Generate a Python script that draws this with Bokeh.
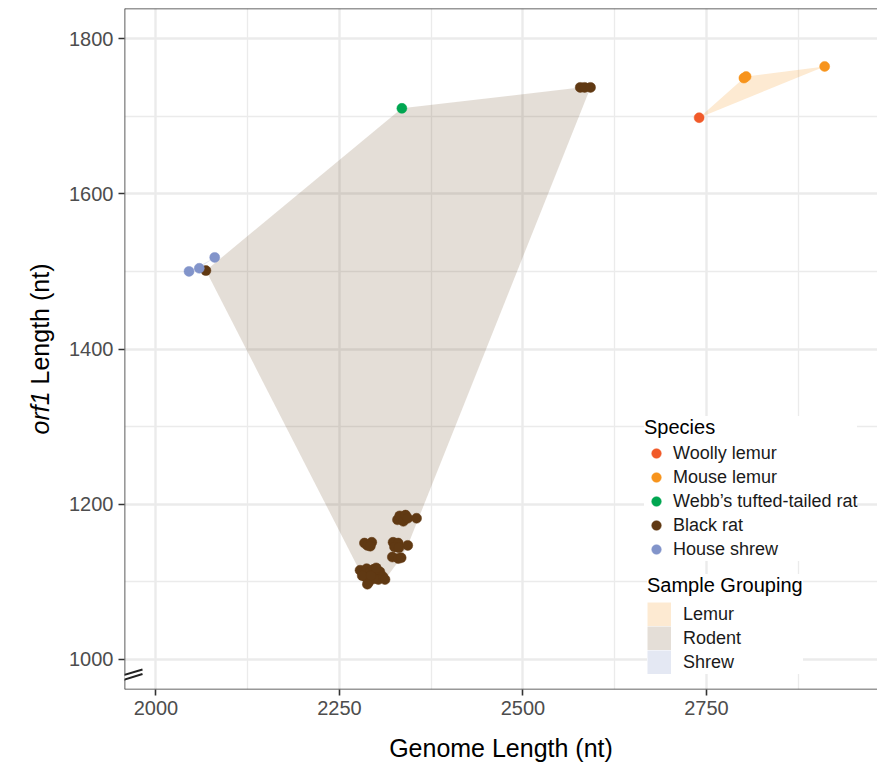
import math
from bokeh.plotting import figure
from bokeh.layouts import row
from bokeh.core.properties import value
from bokeh.models import (Range1d, FixedTicker, Legend, LegendItem, Arrow, Span)
from bokeh.embed import file_html
from bokeh.resources import INLINE

# ---------------- data ----------------
species_names = ["Woolly lemur", "Mouse lemur", "Webb\u2019s tufted-tailed rat", "Black rat", "House shrew"]
species_colors = ["#F15A29", "#F7941D", "#00A651", "#603913", "#8294CA"]

woolly_x = [2740]
woolly_y = [1698]
mouse_x = [2801, 2804, 2911]
mouse_y = [1749, 1751, 1764]
webb_x = [2335]
webb_y = [1710]
rat_x = [2578, 2584, 2592, 2068,
         2329, 2332, 2337, 2340, 2343, 2355,
         2284, 2288, 2294, 2292,
         2323, 2330, 2325, 2331, 2343, 2322, 2330, 2334,
         2278, 2283, 2287, 2292, 2296, 2300, 2305, 2309, 2303, 2297, 2290, 2286, 2281,
         2293, 2300, 2288, 2312]
rat_y = [1737, 1737, 1737, 1501,
         1180, 1185, 1178, 1186, 1182, 1182,
         1150, 1147, 1151, 1146,
         1151, 1150, 1145, 1144, 1147, 1132, 1130, 1131,
         1115, 1112, 1117, 1113, 1116, 1110, 1113, 1107, 1103, 1104, 1100, 1106, 1108,
         1108, 1118, 1097, 1103]
shrew_x = [2045, 2059, 2080]
shrew_y = [1500, 1504, 1518]

group_names = ["Lemur", "Rodent", "Shrew"]
group_colors = ["#F7941D", "#603913", "#8294CA"]
group_alpha = [0.2, 0.17, 0.22]

x_ticks = [2000, 2250, 2500, 2750]
x_minor = [2125, 2375, 2625, 2875]
y_ticks = [1000, 1200, 1400, 1600, 1800]
y_minor = [1100, 1300, 1500, 1700]

x_title = "Genome Length (nt)"
y_title_italic = "orf1"
y_title_rest = "Length (nt)"


def hull(xs, ys):
    pts = sorted(set(zip(xs, ys)))
    if len(pts) < 3:
        return [p[0] for p in pts], [p[1] for p in pts]

    def cross(o, a, b):
        return (a[0] - o[0]) * (b[1] - o[1]) - (a[1] - o[1]) * (b[0] - o[0])
    lower, upper = [], []
    for p in pts:
        while len(lower) >= 2 and cross(lower[-2], lower[-1], p) <= 0:
            lower.pop()
        lower.append(p)
    for p in reversed(pts):
        while len(upper) >= 2 and cross(upper[-2], upper[-1], p) <= 0:
            upper.pop()
        upper.append(p)
    h = lower[:-1] + upper[:-1]
    return [p[0] for p in h], [p[1] for p in h]


FONT = "Liberation Sans"
W, H = 877, 770
TITLE_W = 60
MB_L, MB_R, MB_T, MB_B = 124 - TITLE_W, 0, 8, 81
FRAME_H = H - MB_T - MB_B
X0, X1 = 1957.1, 2983.0
Y0, Y1 = 961.35, 1838.65

p = figure(width=W - TITLE_W, height=H, output_backend="svg", toolbar_location=None,
           x_range=Range1d(X0, X1), y_range=Range1d(Y0, Y1),
           min_border_left=MB_L, min_border_right=MB_R, min_border_top=MB_T,
           min_border_bottom=MB_B)
p.background_fill_color = "white"
p.border_fill_color = "white"
p.outline_line_color = None

xt = FixedTicker(ticks=x_ticks, minor_ticks=x_minor)
yt = FixedTicker(ticks=y_ticks, minor_ticks=y_minor)
p.xaxis.ticker = xt
p.yaxis.ticker = yt
p.xgrid.ticker = xt
p.ygrid.ticker = yt
for g in (p.xgrid, p.ygrid):
    g.grid_line_color = "#EBEBEB"
    g.grid_line_width = 2.4
    g.minor_grid_line_color = "#EBEBEB"
    g.minor_grid_line_width = 1.3

for ax in (p.xaxis, p.yaxis):
    ax.axis_line_color = None
    ax.major_tick_line_color = "#333333"
    ax.major_tick_line_width = 1.6
    ax.major_tick_out = 6
    ax.major_tick_in = 0
    ax.minor_tick_line_color = None
    ax.major_label_text_font = FONT
    ax.major_label_text_font_size = "20px"
    ax.major_label_text_color = "#4D4D4D"
    ax.major_label_standoff = 5

p.xaxis.axis_label = x_title
p.xaxis.axis_label_text_font = FONT
p.xaxis.axis_label_text_font_size = "25px"
p.xaxis.axis_label_text_font_style = "normal"
p.xaxis.axis_label_text_color = "#000000"
p.xaxis.axis_label_standoff = 16

# ---- panel border: top, bottom, left (right edge lies beyond the picture) ----
for loc, dim in ((Y1, "width"), (Y0, "width"), (X0, "height")):
    p.add_layout(Span(location=loc, dimension=dim, line_color="#333333", line_width=1.6))

# ---- hulls ----
group_pts = [
    (woolly_x + mouse_x, woolly_y + mouse_y),
    (webb_x + rat_x, webb_y + rat_y),
    (shrew_x, shrew_y),
]
for (gx, gy), col, al in zip(group_pts, group_colors, group_alpha):
    hx, hy = hull(gx, gy)
    p.patch(hx, hy, fill_color=col, fill_alpha=al, line_color=None)

# legend swatches for the groups (full-size filled keys; nothing drawn in the panel)
NAN = float("nan")
swatch_renderers = []
for col, al in zip(group_colors, group_alpha):
    r = p.line(x=[NAN, NAN], y=[NAN, NAN], line_color=col, line_alpha=al,
               line_width=24, line_cap="butt")
    swatch_renderers.append(r)

# ---- points ----
sp_data = [(woolly_x, woolly_y), (mouse_x, mouse_y), (webb_x, webb_y), (rat_x, rat_y), (shrew_x, shrew_y)]
pt_renderers = []
for (sx, sy), col in zip(sp_data, species_colors):
    r = p.scatter(sx, sy, size=10, fill_color=col, line_color=col, line_width=0.5)
    pt_renderers.append(r)

# ---- legends ----
common = dict(orientation="vertical", padding=6, margin=0, label_height=24,
              glyph_width=24, glyph_height=24, spacing=0,
              label_text_font=FONT, label_text_font_size="18px", label_text_color="#1A1A1A",
              title_text_font=FONT, title_text_font_size="20px", title_text_font_style="normal",
              title_text_color="#000000",
              background_fill_color="white", background_fill_alpha=1.0, border_line_color=None)
leg1 = Legend(items=[LegendItem(label=n, renderers=[r]) for n, r in zip(species_names, pt_renderers)],
              title="Species", location=(520, 128), label_standoff=5, title_standoff=2, **common)
leg2 = Legend(items=[LegendItem(label=n, renderers=[r]) for n, r in zip(group_names, swatch_renderers)],
              title="Sample Grouping", location=(523, 15), label_standoff=12, title_standoff=5,
              **common)
p.add_layout(leg1)
p.add_layout(leg2)

# ---- axis break marks ----
p.add_layout(Arrow(end=None, x_start=-16, y_start=7.5, x_end=18, y_end=18,
                   start_units="screen", end_units="screen",
                   line_color="white", line_width=5))
for y0, y1 in ((10, 20), (5, 15.5)):
    p.add_layout(Arrow(end=None, x_start=-16, y_start=y0, x_end=18, y_end=y1,
                       start_units="screen", end_units="screen",
                       line_color="#222222", line_width=2))

# ---- y axis title (mixed italic) in a narrow side figure, frame aligned with the plot ----
tf = figure(width=TITLE_W, height=H, output_backend="svg", toolbar_location=None,
            x_range=Range1d(0, TITLE_W), y_range=Range1d(0, FRAME_H),
            x_axis_location=None, y_axis_location=None,
            min_border_left=0, min_border_right=0, min_border_top=MB_T, min_border_bottom=MB_B)
tf.outline_line_color = None
tf.background_fill_color = "white"
tf.border_fill_color = "white"
for g in tf.grid:
    g.grid_line_color = None

fs = 25
w_orf1 = (0.556 + 0.333 + 0.278 + 0.556) * fs
w_space = 0.278 * fs
w_rest = (0.556 * 4 + 0.278 + 0.556 + 0.278 + 0.333 + 0.556 + 0.278 + 0.333) * fs
total = w_orf1 + w_space + w_rest
start = FRAME_H / 2.0 - total / 2.0
mid_x = 39.5

tf.text(x=[mid_x], y=[start], text=[y_title_italic], angle=math.pi / 2,
        text_align="left", text_baseline="middle", text_font=value(FONT),
        text_font_size="25px", text_font_style="italic", text_color="#000000")
tf.text(x=[mid_x], y=[start + w_orf1 + w_space], text=[y_title_rest], angle=math.pi / 2,
        text_align="left", text_baseline="middle", text_font=value(FONT),
        text_font_size="25px", text_font_style="normal", text_color="#000000")

layout = row(tf, p, spacing=0)
open("out.html", "w").write(file_html(layout, INLINE))
